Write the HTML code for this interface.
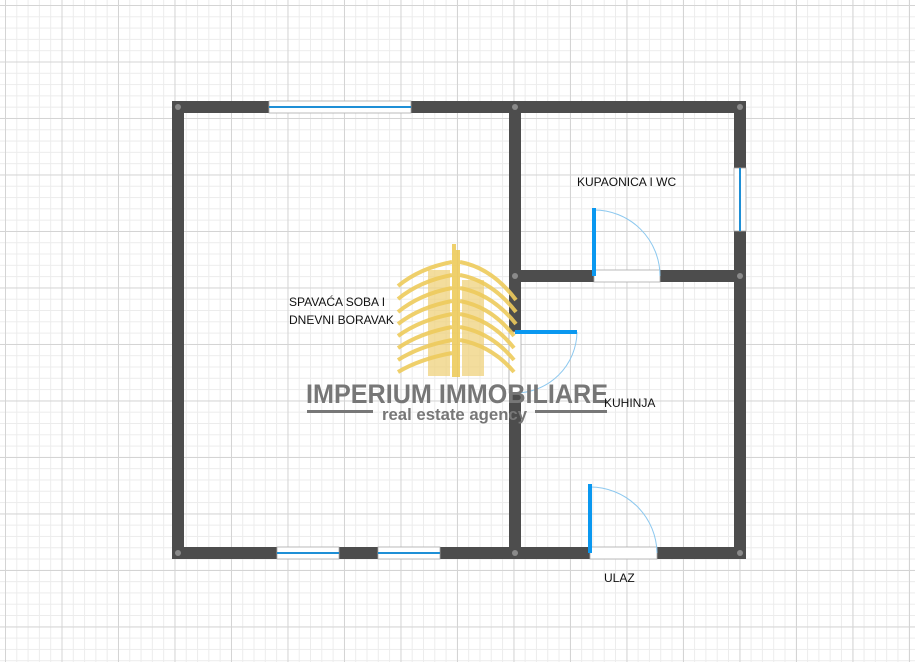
<!DOCTYPE html>
<html><head><style>
body{margin:0;width:915px;height:662px;overflow:hidden;background:#fff;font-family:"Liberation Sans",sans-serif}
.bg{position:absolute;left:0;top:0;width:915px;height:662px;
background-image:
linear-gradient(to right,#d4d4d4 1px,transparent 1px),
linear-gradient(to bottom,#d4d4d4 1px,transparent 1px),
linear-gradient(to right,#ececec 1px,transparent 1px),
linear-gradient(to bottom,#ececec 1px,transparent 1px);
background-size:56.5px 56.5px,56.5px 56.5px,11.3px 11.3px,11.3px 11.3px;
background-position:5px 5px,5px 5px,5px 5px,5px 5px}
</style></head><body>
<div class="bg"></div>
<svg width="915" height="662" style="position:absolute;left:0;top:0">
<g fill="#4d4d4d">
<rect x="172" y="101" width="574" height="12"/>
<rect x="172" y="547" width="574" height="12"/>
<rect x="172" y="101" width="12" height="458"/>
<rect x="734" y="101" width="12" height="458"/>
<rect x="509" y="101" width="12" height="458"/>
<rect x="509" y="270" width="237" height="12"/>
</g>
<g fill="#fff" stroke="#aaa" stroke-width="0.8">
<rect x="269" y="101" width="142" height="12"/>
<rect x="734" y="168" width="12" height="63"/>
<rect x="277" y="547" width="62" height="12"/>
<rect x="378" y="547" width="62" height="12"/>
<rect x="594" y="270" width="66" height="12"/>
<rect x="590" y="547" width="67" height="12"/>
<rect x="509" y="332" width="12" height="61"/>
</g>
<g stroke="#1e8fd6" stroke-width="2">
<line x1="269" y1="107" x2="411" y2="107"/>
<line x1="740" y1="168" x2="740" y2="231"/>
<line x1="277" y1="553" x2="339" y2="553"/>
<line x1="378" y1="553" x2="440" y2="553"/>
</g>
<g fill="none" stroke="#8cc8ef" stroke-width="1">
<path d="M594 210 A66 66 0 0 1 660 276"/>
<path d="M590 487 A67 67 0 0 1 657 553"/>
<path d="M577 332 A62 62 0 0 1 515 393"/>
</g>
<g fill="#0a98f0">
<rect x="592" y="208" width="4" height="68"/>
<rect x="588" y="484" width="4" height="69"/>
<rect x="515" y="330" width="62" height="4"/>
</g>
<g fill="#8a8a8a">
<circle cx="178" cy="107" r="3"/><circle cx="740" cy="107" r="3"/>
<circle cx="515" cy="107" r="3"/><circle cx="178" cy="553" r="3"/>
<circle cx="740" cy="553" r="3"/><circle cx="515" cy="553" r="3"/>
<circle cx="515" cy="276" r="3"/><circle cx="740" cy="276" r="3"/>
</g>
<rect x="428" y="270" width="22" height="106" fill="#efd27c" opacity="0.75"/>
<rect x="462" y="280" width="22" height="96" fill="#efd27c" opacity="0.75"/>
<g fill="none" stroke="#eecb5c" stroke-width="4" opacity="0.9">
<path d="M454 244 L454 377"/><path d="M458 250 L458 377"/>
<path d="M452 262 Q420 268 398 286"/><path d="M452 275 Q420 281 398 299"/>
<path d="M452 288 Q420 294 398 312"/><path d="M452 301 Q420 307 398 324"/>
<path d="M452 314 Q420 320 398 336"/><path d="M452 327 Q420 333 398 348"/>
<path d="M452 340 Q420 346 398 360"/><path d="M452 353 Q420 359 398 372"/>
<path d="M460 262 Q492 268 516 300"/><path d="M460 275 Q492 281 516 312"/>
<path d="M460 288 Q492 294 516 324"/><path d="M460 301 Q492 307 514 336"/>
<path d="M460 314 Q492 320 514 348"/><path d="M460 327 Q492 333 514 360"/>
<path d="M460 340 Q492 346 514 372"/>
</g>
<text x="306" y="403" font-family="Liberation Sans" font-weight="bold" font-size="27" fill="#777" textLength="302" lengthAdjust="spacingAndGlyphs">IMPERIUM IMMOBILIARE</text>
<rect x="307" y="410" width="66" height="3" fill="#777"/>
<rect x="535" y="410" width="72" height="3" fill="#777"/>
<text x="382" y="420" font-family="Liberation Sans" font-weight="bold" font-size="17" fill="#777" textLength="145" lengthAdjust="spacingAndGlyphs">real estate agency</text>
<g font-family="Liberation Sans" font-size="12" fill="#111">
<text x="289" y="306">SPAVAĆA SOBA I</text>
<text x="289" y="324">DNEVNI BORAVAK</text>
<text x="577" y="186">KUPAONICA I WC</text>
<text x="604" y="407">KUHINJA</text>
<text x="604" y="582">ULAZ</text>
</g>
</svg>
</body></html>
